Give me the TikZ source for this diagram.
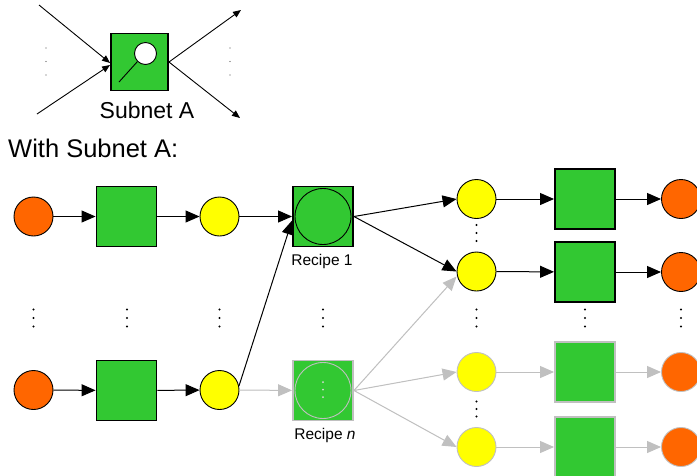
\documentclass[tikz,border=0pt]{standalone}
\usepackage{fontspec}
\setmainfont{Liberation Sans}
\usetikzlibrary{arrows.meta}
\definecolor{pgreen}{RGB}{50,200,50}
\definecolor{porange}{RGB}{255,102,0}
\definecolor{pyellow}{RGB}{255,255,0}
\definecolor{faint}{RGB}{192,192,192}
\tikzset{
  place/.style={circle, draw, line width=0.9pt, minimum size=39pt, inner sep=0pt},
  token/.style={place, fill=porange},
  cond/.style={place, fill=pyellow},
  trans/.style={rectangle, draw, line width=1.9pt, fill=pgreen, minimum size=60pt, inner sep=0pt},
  arr/.style={line width=1pt, -{Triangle[length=14pt,width=12pt]}},
  thin arr/.style={line width=0.9pt, -{Triangle[length=8pt,width=6.5pt]}},
  faded/.style={draw=faint},
  dot/.style={circle, fill=black, inner sep=0pt, minimum size=2.2pt},
}
\newcommand{\threedots}[3]{% x, y of middle dot, spacing
  \foreach \k in {-1,0,1}{\node[dot] at (#1,#2+\k*#3) {};}}
\begin{document}
\begin{tikzpicture}[x=1pt,y=-1pt]
\useasboundingbox (0,0) rectangle (697,475);

% ---- legend: the subnet transition symbol
\node[trans, minimum size=57pt] (sA) at (139.5,62) {};
\node[circle, draw, fill=white, line width=0.9pt, minimum size=22pt, inner sep=0pt] (sAc) at (145.5,53.5) {};
\coordinate (sAh) at (119,82);
\draw[line width=0.9pt] (sAc.south west) -- (sAh);
\coordinate (in1) at (39,5);
\coordinate (in2) at (37,114);
\coordinate (out1) at (241,10);
\coordinate (out2) at (240,118);
\draw[thin arr] (in1) -- ([yshift=-1pt]sA.west);
\draw[thin arr] (in2) -- ([yshift=-3pt]sA.west);
\draw[thin arr] (sA.east) -- (out1);
\draw[thin arr] (sA.east) -- (out2);
\foreach \yy in {48,61.5,75}{\node[circle, fill=black!70, inner sep=0pt, minimum size=1.3pt] at (46,\yy) {};}
\foreach \yy in {48,61.5,75}{\node[circle, fill=black!70, inner sep=0pt, minimum size=1.3pt] at (230,\yy) {};}
\node[anchor=base, font=\fontsize{23}{26}\selectfont, inner sep=0pt] (sAl) at (147,118) {Subnet A};

\node[anchor=base west, font=\fontsize{25.5}{30}\selectfont, inner sep=0pt] (head) at (8,157) {With Subnet A:};

% ---- first input chain
\node[token] (o1) at (33.5,216.5) {};
\node[trans] (t1) at (126.5,216.5) {};
\node[cond]  (y1) at (219.5,216.5) {};
\node[trans] (r1) at (323,216.5) {};
\node[circle, draw, line width=0.9pt, minimum size=56pt, inner sep=0pt] (r1c) at (r1) {};
\node[anchor=base, font=\fontsize{15.5}{18}\selectfont, inner sep=0pt] (r1l) at (322,265) {Recipe 1};

% ---- last input chain
\node[token] (on) at (33.5,390) {};
\node[trans] (tn) at (126.5,390.5) {};
\node[cond]  (yn) at (219.5,390) {};
\node[trans, faded] (rn) at (323,390.5) {};
\node[circle, draw=faint, line width=0.9pt, minimum size=56pt, inner sep=0pt] (rnc) at (rn) {};
\foreach \yy in {382,389.5,397}{\node[circle, fill=faint!60!white, inner sep=0pt, minimum size=2pt] at (323,\yy) {};}
\node[anchor=base, font=\fontsize{15.5}{18}\selectfont, inner sep=0pt] (rnl) at (325,439) {Recipe \textit{n}};

% ---- outputs of Recipe 1
\node[cond]  (ya) at (476.5,199) {};
\node[trans] (ta) at (585,199) {};
\node[token] (oa) at (681,199) {};
\node[cond]  (yb) at (476.5,271.5) {};
\node[trans] (tb) at (585,272) {};
\node[token] (ob) at (681,272) {};

% ---- outputs of Recipe n
\node[cond, faded]  (yc) at (476.5,372) {};
\node[trans, faded] (tc) at (585,372) {};
\node[token, faded] (oc) at (681,372) {};
\node[cond, faded]  (yd) at (476.5,447) {};
\node[trans, faded] (td) at (585,447) {};
\node[token, faded] (od) at (681,447) {};

% ---- ellipses between the rows
\foreach \xx in {33.5,127,219.5,323,476.5,585,681}{\threedots{\xx}{318}{8.5}}
\threedots{476.5}{233}{8}
\threedots{476.5}{409}{7.5}

% ---- connectors
\draw[arr] (o1) -- (t1);
\draw[arr] (t1) -- (y1);
\draw[arr] (y1) -- (r1);
\draw[arr] (on) -- (tn);
\draw[arr] (tn) -- (yn);
\draw[arr] (yn.12) -- ([yshift=-4pt]r1.west);
\draw[arr, draw=faint, fill=faint] (yn) -- (rn);

\draw[arr] (r1.east) -- (ya.west);
\draw[arr] (r1.east) -- (yb.west);
\draw[arr, draw=faint, fill=faint] (rn.east) -- ([yshift=-5pt]yb.west);
\draw[arr, draw=faint, fill=faint] (rn.east) -- (yc.west);
\draw[arr, draw=faint, fill=faint] (rn.east) -- (yd.west);

\draw[arr] (ya) -- (ta);
\draw[arr] (ta) -- (oa);
\draw[arr] (yb) -- (tb);
\draw[arr] (tb) -- (ob);
\draw[arr, draw=faint, fill=faint] (yc) -- (tc);
\draw[arr, draw=faint, fill=faint] (tc) -- (oc);
\draw[arr, draw=faint, fill=faint] (yd) -- (td);
\draw[arr, draw=faint, fill=faint] (td) -- (od);
\end{tikzpicture}
\end{document}
